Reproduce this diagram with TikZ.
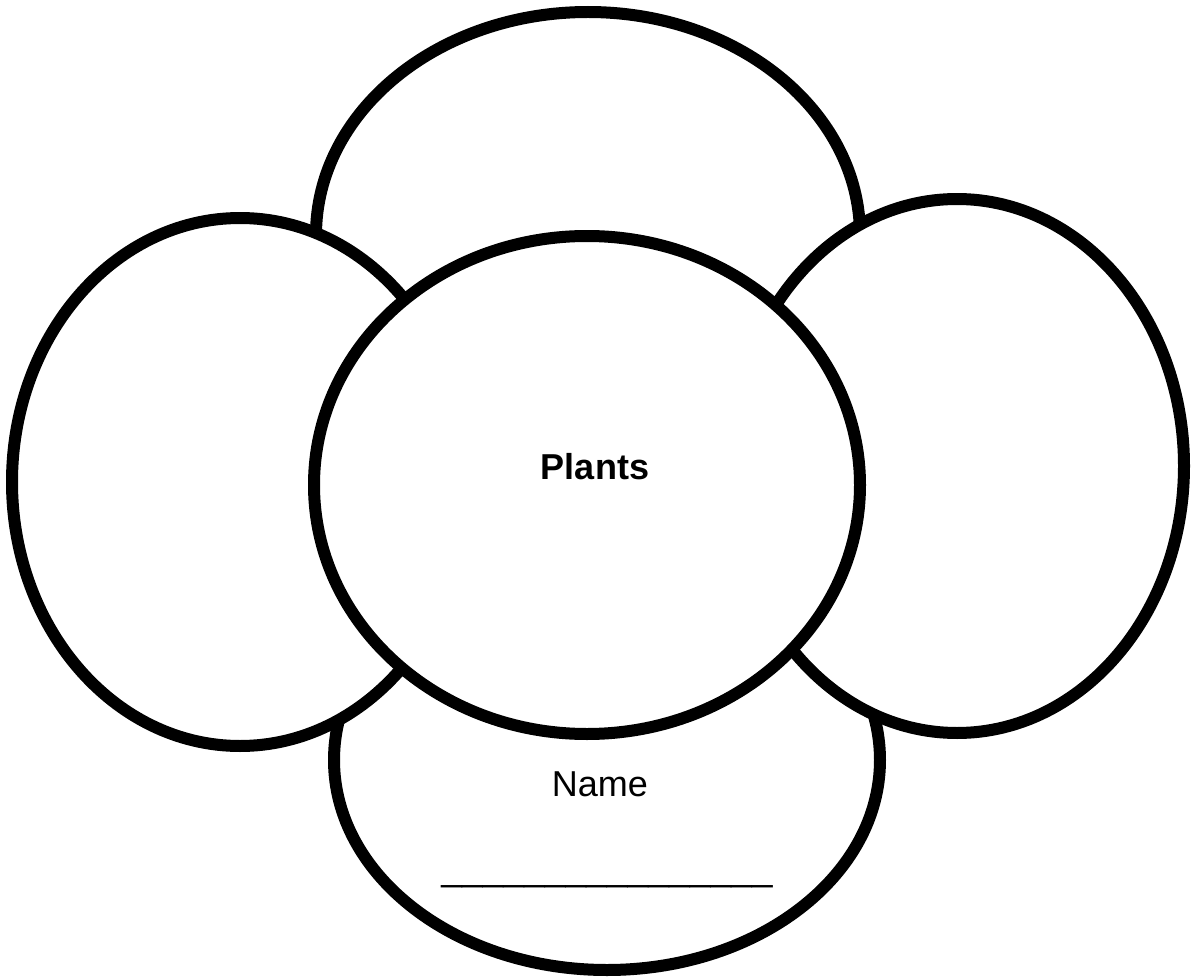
\documentclass[tikz,border=0pt]{standalone}
\usepackage{fontspec}
\setmainfont{Liberation Sans}
\begin{document}
\begin{tikzpicture}[x=.02cm, y=-.02cm]
				\def\lw{.24cm}
				\useasboundingbox (0,0) rectangle (1191,980);
				\coordinate (centop) at (588,235);
				\coordinate (cenbot) at (607,760);
				\coordinate (cenleft) at (240,482);
				\coordinate (cenright) at (957,466);
				\coordinate (cenmid) at (587,485);
				\draw[line width=\lw, fill=white] (centop) ellipse [x radius=272, y radius=223];
				\draw[line width=\lw, fill=white] (cenbot) ellipse [x radius=273, y radius=210];
				\draw[line width=\lw, fill=white] (cenleft) ellipse [x radius=228, y radius=264];
				\draw[line width=\lw, fill=white] (cenright) ellipse [x radius=227, y radius=267];
				\draw[line width=\lw, fill=white] (cenmid) ellipse [x radius=273, y radius=249];
				
				\node[anchor=base] (plants) at (595,479) {\fontsize{20.5}{25}\selectfont\bfseries Plants};
				\node[anchor=base] (name) at (600,796) {\fontsize{20.5}{25}\selectfont Name};
				\node[anchor=base] (blank) at (607,880) {\fontsize{21.2}{25}\selectfont \_\_\_\_\_\_\_\_\_\_\_\_\_\_\_\_};
			\end{tikzpicture}
\end{document}
